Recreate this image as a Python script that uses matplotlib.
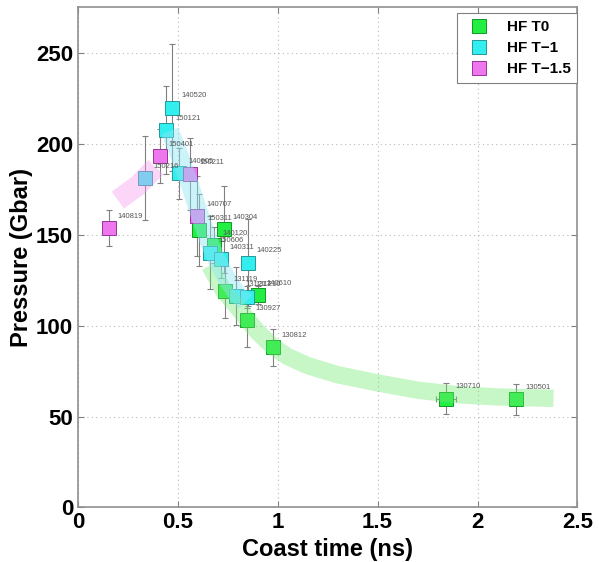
import matplotlib
matplotlib.use('Agg')
import matplotlib.pyplot as plt

plt.rcParams['font.family'] = ['Liberation Sans', 'DejaVu Sans']

# HF T0 shots
t0_names = ['150311', '140304', '140120', '131119', '140610', '130927', '130812', '130710', '130501']
t0_time = [0.605, 0.73, 0.679, 0.734, 0.90, 0.845, 0.975, 1.842, 2.195]
t0_press = [152.5, 153, 144.3, 119, 116.8, 103, 88, 59.8, 59.5]
t0_err = [20, 24, 10, 15, 5, 14.5, 10, 8.6, 8.5]
t0_terr = [0, 0, 0, 0, 0, 0, 0, 0.05, 0]

# HF T-1 shots
t1_names = ['150216', '150121', '140520', '140605', '150606', '140311', '140225', '131217', '131210']
t1_time = [0.334, 0.442, 0.472, 0.508, 0.659, 0.714, 0.85, 0.792, 0.845]
t1_press = [181, 207.5, 219.8, 183.7, 140.1, 136.4, 134.6, 116.3, 115.9]
t1_err = [23, 24, 35, 14, 20, 10, 24, 16, 6]

# HF T-1.5 shots
t15_names = ['140819', '150401', '150211', '140707']
t15_time = [0.155, 0.409, 0.563, 0.597]
t15_press = [153.5, 193.2, 183.3, 160]
t15_err = [10, 15, 20, 22]

# trend bands
band0_t = [0.66, 0.73, 0.80, 0.85, 0.90, 0.975, 1.05, 1.15, 1.30, 1.50, 1.70, 1.90, 2.10, 2.38]
band0_p = [133, 119, 110, 103, 96.5, 88.5, 83, 78, 73, 68.5, 64.5, 62, 60.8, 60]
band1_t = [0.46, 0.50, 0.55, 0.60, 0.65, 0.70, 0.75, 0.80, 0.84]
band1_p = [207, 196, 181, 164, 148, 135, 125, 117, 113]
band15_t = [0.20, 0.30, 0.39]
band15_p = [169, 177, 187]

fig = plt.figure(figsize=(5.99, 5.62), dpi=100)
ax = fig.add_axes([0.130, 0.097, 0.834, 0.890])

ax.plot(band0_t, band0_p, color=(0.45, 0.92, 0.45), alpha=0.4, lw=12.5,
        solid_capstyle='butt', solid_joinstyle='round', zorder=4)
ax.plot(band1_t, band1_p, color=(0.55, 0.9, 0.95), alpha=0.45, lw=13,
        solid_capstyle='butt', solid_joinstyle='round', zorder=4)
ax.plot(band15_t, band15_p, color=(0.97, 0.6, 0.95), alpha=0.4, lw=15,
        solid_capstyle='butt', solid_joinstyle='round', zorder=4)

series = [
    (t0_time, t0_press, t0_err, t0_terr, t0_names, '#22ee44', '#119922', 'HF T0'),
    (t1_time, t1_press, t1_err, None, t1_names, '#33eeee', '#229999', 'HF T\u22121'),
    (t15_time, t15_press, t15_err, None, t15_names, '#ee77ee', '#993399', 'HF T\u22121.5'),
]
for tt, pp, ee, te, names, fc, ec, lab in series:
    ax.errorbar(tt, pp, yerr=ee, xerr=te, fmt='none', ecolor='#808080',
                elinewidth=0.8, capsize=2.5, capthick=0.8, zorder=2)
    ax.plot(tt, pp, 's', ms=10, mfc=fc, mec=ec, mew=0.7, ls='none',
            label=lab, zorder=3)
    for n, x, y in zip(names, tt, pp):
        ax.annotate(n, (x, y), xytext=(6.5, 8.5), textcoords='offset points',
                    fontsize=5.5, color='#555555', va='center', zorder=5)

ax.set_xlim(0, 2.5)
ax.set_ylim(0, 275)
ax.set_xticks([0, 0.5, 1, 1.5, 2, 2.5])
ax.set_xticklabels(['0', '0.5', '1', '1.5', '2', '2.5'])
ax.set_yticks([0, 50, 100, 150, 200, 250])
ax.tick_params(direction='in', length=4, color='#808080', labelsize=16,
               top=True, right=True)
for lbl in ax.get_xticklabels() + ax.get_yticklabels():
    lbl.set_fontweight('bold')
ax.grid(True, ls=(0, (1, 3)), color='#b8b8b8', lw=0.8)
for s in ax.spines.values():
    s.set_color('#909090')
    s.set_linewidth(1.2)

ax.set_xlabel('Coast time (ns)', fontsize=17, fontweight='bold', labelpad=3)
ax.set_ylabel('Pressure (Gbar)', fontsize=17, fontweight='bold')
ax.yaxis.set_label_coords(-0.09, 0.5)

leg = ax.legend(loc='upper right', bbox_to_anchor=(1.0, 0.988),
                prop={'weight': 'bold', 'size': 11}, fancybox=False,
                edgecolor='#808080', framealpha=1, borderaxespad=0,
                borderpad=0.45, labelspacing=0.45, handletextpad=0.8)
leg.get_frame().set_linewidth(0.8)

fig.savefig('out.png', dpi=100)
